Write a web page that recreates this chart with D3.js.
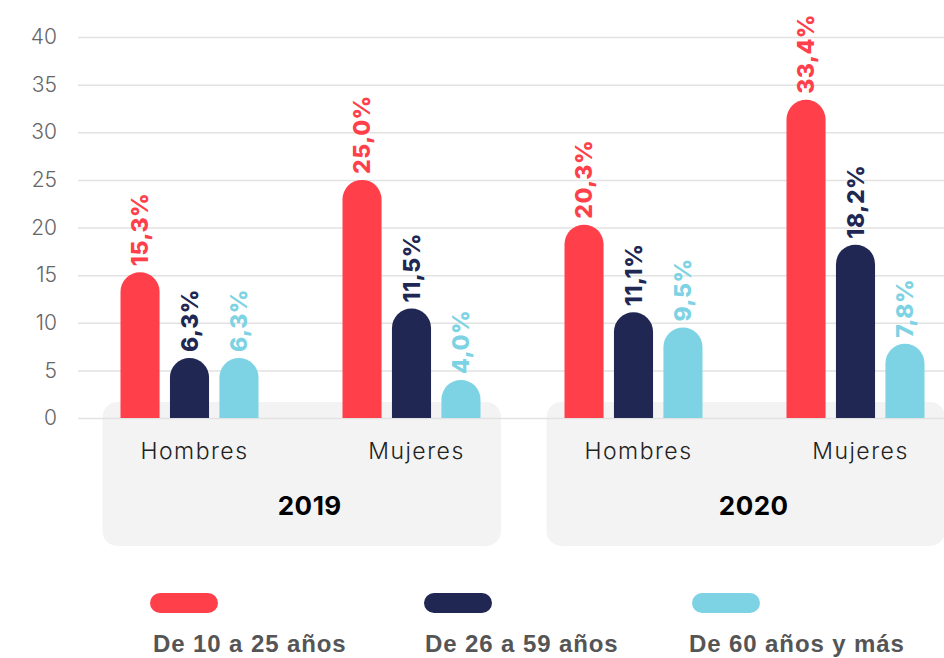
<!DOCTYPE html>
<html>
<head>
<meta charset="utf-8">
<script src="https://cdn.jsdelivr.net/npm/d3@7"></script>
<style>
  body { margin: 0; background: #fff; }
  svg { display: block; }
</style>
</head>
<body>
<svg id="chart" width="944" height="658"></svg>
<script>
// data
var years = ["2019", "2020"];
var sexes = ["Hombres", "Mujeres"];
var series = ["De 10 a 25 años", "De 26 a 59 años", "De 60 años y más"];
var colors = ["#ff404b", "#212753", "#7dd3e3"];
var values2019 = [[15.3, 6.3, 6.3], [25.0, 11.5, 4.0]];
var values2020 = [[20.3, 11.1, 9.5], [33.4, 18.2, 7.8]];
var yTicks = [0, 5, 10, 15, 20, 25, 30, 35, 40];

var svg = d3.select("#chart");

var groups = [];
years.forEach(function(yr, i) {
    var vals = i == 0 ? values2019 : values2020;
    sexes.forEach(function(s, j) {
        groups.push({key: yr + "-" + s, year: yr, sex: s, values: vals[j]});
    });
});

var y = d3.scaleLinear().domain([0, 40]).range([418, 37]);
var x0 = d3.scaleBand().domain(groups.map(function(d){ return d.key; })).range([78.5, 966.5]);
var x1 = d3.scaleBand().domain(series).range([0, 138]).paddingInner(0.21);
var color = d3.scaleOrdinal().domain(series).range(colors);
var bw = x1.bandwidth();

function groupCenter(k) { return x0(k) + x0.bandwidth() / 2; }

// year boxes
years.forEach(function(yr) {
    var ks = groups.filter(function(g){ return g.year == yr; }).map(function(g){ return g.key; });
    var left = groupCenter(ks[0]) - 87, right = groupCenter(ks[1]) + 89.5;
    svg.append("rect")
        .attr("x", left).attr("y", 402)
        .attr("width", right - left).attr("height", 144)
        .attr("rx", 15)
        .attr("fill", "#f3f3f3");
    svg.append("text")
        .attr("x", (left + right) / 2 + 8)
        .attr("y", 515)
        .attr("text-anchor", "middle")
        .style("font-family", "Inter, 'Noto Sans', sans-serif")
        .style("font-weight", 700)
        .style("font-size", "26px")
        .style("letter-spacing", "0.5px")
        .attr("fill", "#000")
        .text(yr);
});

// grid + y axis
var yAxis = d3.axisLeft(y).tickValues(yTicks).tickSize(0).tickPadding(0);
var ax = svg.append("g").attr("transform", "translate(57,0)").call(yAxis);
ax.select(".domain").remove();
ax.selectAll("text")
    .style("font-family", "Inter, 'Noto Sans', sans-serif")
    .style("font-weight", 300)
    .style("font-size", "21px")
    .attr("fill", "#666");

svg.append("g").selectAll("line")
    .data(yTicks)
    .enter().append("line")
    .attr("x1", 78).attr("x2", 944)
    .attr("y1", function(d){ return y(d) + 0.5; })
    .attr("y2", function(d){ return y(d) + 0.5; })
    .attr("stroke", "#e2e2e2")
    .attr("stroke-width", 1.5);

// bars
function topRounded(x, top, w, bottom) {
    var r = w / 2;
    return "M" + x + "," + bottom +
        "V" + (top + r) +
        "A" + r + "," + r + " 0 0 1 " + (x + w) + "," + (top + r) +
        "V" + bottom + "Z";
}

var gs = svg.append("g").selectAll("g")
    .data(groups)
    .enter().append("g")
    .attr("transform", function(d){ return "translate(" + (groupCenter(d.key) - 69) + ",0)"; });

var cells = gs.selectAll("g")
    .data(function(d){ return d.values.map(function(v, i){ return {s: series[i], v: v}; }); })
    .enter().append("g");

cells.append("path")
    .attr("d", function(d){ return topRounded(x1(d.s), y(d.v), bw, y(0)); })
    .attr("fill", function(d){ return color(d.s); });

cells.append("text")
    .attr("transform", function(d){
        return "translate(" + (x1(d.s) + bw / 2) + "," + (y(d.v) - 6) + ") rotate(-90)";
    })
    .attr("dy", "0.36em")
    .attr("text-anchor", "start")
    .style("font-family", "Inter, 'Noto Sans', sans-serif")
    .style("font-weight", 800)
    .style("font-size", "23px")
    .style("letter-spacing", "0.5px")
    .attr("fill", function(d){ return color(d.s); })
    .text(function(d){ return d.v.toFixed(1).replace(".", ",") + "%"; });

// category labels
gs.append("text")
    .attr("x", 69 + 5)
    .attr("y", 459)
    .attr("text-anchor", "middle")
    .style("font-family", "Inter, 'Noto Sans', sans-serif")
    .style("font-weight", 300)
    .style("font-size", "23px")
    .style("letter-spacing", "1.5px")
    .attr("fill", "#222")
    .text(function(d){ return d.sex; });

// legend
var legendX = [150, 424, 692];
var legendTextX = [153, 425, 689];
var lg = svg.append("g").selectAll("g")
    .data(series)
    .enter().append("g");

lg.append("rect")
    .attr("x", function(d, i){ return legendX[i]; }).attr("y", 593)
    .attr("width", 68).attr("height", 20)
    .attr("rx", 10)
    .attr("fill", function(d){ return color(d); });

lg.append("text")
    .attr("x", function(d, i){ return legendTextX[i]; }).attr("y", 652)
    .style("font-family", "'Liberation Sans', Arial, sans-serif")
    .style("font-weight", 700)
    .style("font-size", "24px")
    .style("letter-spacing", "0.9px")
    .attr("fill", "#555")
    .text(function(d){ return d; });
</script>
</body>
</html>
